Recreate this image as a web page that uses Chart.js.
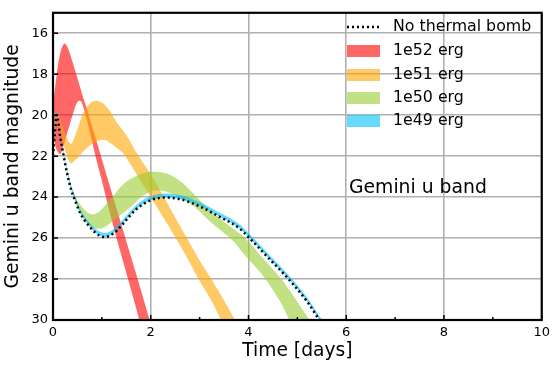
<!DOCTYPE html>
<html>
<head>
<meta charset="utf-8">
<script src="https://cdn.jsdelivr.net/npm/chart.js@4.4.0/dist/chart.umd.min.js"></script>
<style>
  html, body { margin: 0; padding: 0; background: #fff; }
  #wrap { width: 555px; height: 366px; }
</style>
</head>
<body>
<div id="wrap"><canvas id="lc"></canvas></div>
<script>
// axis ticks
const xTicks = [0, 2, 4, 6, 8, 10];
const xMinor = [1, 3, 5, 7, 9];
const yTicks = [16, 18, 20, 22, 24, 26, 28, 30];

// No thermal bomb (dotted) and 1e49 band share these times
const tBase = [0, 0.04, 0.08, 0.15, 0.2, 0.28, 0.38, 0.45, 0.55, 0.75, 0.95, 1.05, 1.15, 1.3, 1.45, 1.7, 2.0, 2.3, 2.6, 3.0, 3.4, 3.8, 4.0, 4.4, 4.8, 5.2, 5.45, 5.6];
const magBase = [22.0, 20.8, 20.0, 21.1, 21.75, 22.75, 23.7, 24.15, 24.75, 25.45, 25.88, 25.95, 25.9, 25.65, 25.25, 24.6, 24.15, 24.02, 24.1, 24.45, 24.95, 25.5, 25.95, 26.95, 27.95, 29.1, 30.0, 30.5];
const mag49Hi = [21.8, 20.6, 19.8, 20.9, 21.55, 22.55, 23.5, 23.95, 24.55, 25.25, 25.68, 25.75, 25.7, 25.45, 25.05, 24.4, 23.95, 23.82, 23.9, 24.25, 24.75, 25.3, 25.75, 26.75, 27.75, 28.9, 29.8, 30.3];
const mag49Lo = [22.0, 20.8, 20.0, 21.1, 21.75, 22.75, 23.7, 24.15, 24.75, 25.45, 25.88, 25.95, 25.9, 25.65, 25.25, 24.6, 24.15, 24.02, 24.1, 24.45, 24.95, 25.5, 25.95, 26.95, 27.95, 29.1, 30.0, 30.5];

// 1e50 erg
const t50 = [0, 0.04, 0.08, 0.15, 0.2, 0.28, 0.35, 0.45, 0.6, 0.8, 0.95, 1.1, 1.29, 1.45, 1.63, 1.83, 2.0, 2.15, 2.31, 2.5, 2.64, 2.8, 2.98, 3.22, 3.45, 3.69, 3.93, 4.3, 4.67, 4.9, 5.25, 5.4];
const mag50Hi = [21.9, 20.7, 19.95, 21.0, 21.6, 22.6, 23.3, 23.95, 24.5, 24.85, 24.7, 24.3, 23.77, 23.35, 23.05, 22.85, 22.76, 22.77, 22.84, 23.05, 23.29, 23.65, 24.09, 24.65, 25.1, 25.55, 26.0, 27.0, 28.0, 28.75, 30.0, 30.5];
const mag50Lo = [21.95, 20.75, 20.0, 21.05, 21.65, 22.65, 23.4, 24.2, 24.9, 25.45, 25.55, 25.4, 25.05, 24.75, 24.4, 23.95, 23.72, 23.68, 23.72, 23.9, 24.08, 24.3, 24.65, 25.2, 25.65, 26.15, 26.85, 27.85, 29.2, 30.3, 31.5, 32.0];

// 1e51 erg
const t51 = [0, 0.1, 0.2, 0.3, 0.37, 0.45, 0.54, 0.61, 0.74, 0.88, 1.0, 1.08, 1.18, 1.28, 1.43, 1.56, 1.7, 2.0, 2.27, 2.5, 2.74, 3.0, 3.25, 3.5, 3.7, 3.9];
const mag51Hi = [20.9, 20.0, 20.6, 21.2, 21.4, 21.0, 20.4, 19.93, 19.46, 19.3, 19.38, 19.54, 19.85, 20.26, 20.75, 21.2, 21.8, 22.9, 24.0, 25.0, 26.0, 27.1, 28.05, 29.05, 29.9, 30.8];
const mag51Lo = [21.0, 20.2, 21.3, 22.1, 22.35, 22.2, 22.0, 21.8, 21.5, 21.3, 21.2, 21.22, 21.37, 21.55, 21.85, 22.3, 22.85, 24.0, 25.05, 25.95, 26.95, 28.1, 29.1, 30.3, 31.2, 32.0];

// 1e52 erg
const t52 = [0, 0.05, 0.1, 0.15, 0.2, 0.24, 0.3, 0.4, 0.5, 0.55, 0.6, 0.7, 0.8, 0.9, 1.0, 1.2, 1.4, 1.6, 1.8, 2.0];
const mag52Hi = [19.4, 18.5, 17.6, 16.95, 16.6, 16.5, 16.7, 17.4, 18.2, 18.6, 19.0, 19.75, 20.55, 21.35, 22.15, 23.75, 25.35, 26.95, 28.55, 30.2];
const mag52Lo = [20.8, 21.5, 21.8, 21.9, 21.6, 21.3, 20.8, 20.0, 19.35, 19.3, 19.45, 20.3, 21.3, 22.3, 23.2, 25.1, 26.85, 28.55, 30.3, 32.0];

const legendLabels = ['No thermal bomb', '1e52 erg', '1e51 erg', '1e50 erg', '1e49 erg'];
const bandColors = ['rgba(255,0,0,0.6)', 'rgba(255,165,0,0.6)', 'rgba(154,205,50,0.6)', 'rgba(0,191,255,0.6)'];
const FONT = 'DejaVu Sans';

function pts(xs, ys) {
    return xs.map((x, i) => ({ x: x, y: ys[i] }));
}

function edge(xs, ys, fillColor) {
    return {
        data: pts(xs, ys),
        borderWidth: 0,
        borderColor: 'rgba(0,0,0,0)',
        pointRadius: 0,
        cubicInterpolationMode: 'monotone',
        backgroundColor: fillColor || 'rgba(0,0,0,0)',
        fill: fillColor ? '-1' : false
    };
}

const datasets = [
    {
        data: pts(tBase, magBase),
        borderColor: '#000',
        borderWidth: 2.5,
        borderDash: [2, 3],
        pointRadius: 0,
        cubicInterpolationMode: 'monotone',
        fill: false
    },
    edge(tBase, mag49Hi),
    edge(tBase, mag49Lo, bandColors[3]),
    edge(t50, mag50Hi),
    edge(t50, mag50Lo, bandColors[2]),
    edge(t51, mag51Hi),
    edge(t51, mag51Lo, bandColors[1]),
    edge(t52, mag52Hi),
    edge(t52, mag52Lo, bandColors[0])
];

// spines, inward ticks, legend and the in-plot label
const decor = {
    id: 'decor',
    afterDraw(chart) {
        const ctx = chart.ctx;
        const a = chart.chartArea;
        const xs = chart.scales.x, ys = chart.scales.y;
        ctx.save();
        ctx.strokeStyle = '#000';
        ctx.lineWidth = 1.5;
        ctx.beginPath();
        xTicks.forEach(v => {
            const px = xs.getPixelForValue(v);
            ctx.moveTo(px, a.bottom); ctx.lineTo(px, a.bottom - 5);
        });
        xMinor.forEach(v => {
            const px = xs.getPixelForValue(v);
            ctx.moveTo(px, a.bottom); ctx.lineTo(px, a.bottom - 3);
        });
        yTicks.forEach(v => {
            const py = ys.getPixelForValue(v);
            ctx.moveTo(a.left, py); ctx.lineTo(a.left + 5, py);
        });
        ctx.stroke();

        ctx.lineWidth = 2.2;
        ctx.strokeRect(a.left, a.top, a.right - a.left, a.bottom - a.top);

        // legend
        const lx = 347, lw = 33, tx = 393;
        const rows = [27, 51, 75, 98, 121];
        ctx.font = '15.8px "' + FONT + '"';
        ctx.textBaseline = 'middle';
        ctx.fillStyle = '#000';
        rows.forEach((ry, i) => {
            if (i === 0) {
                ctx.setLineDash([2, 3]);
                ctx.lineWidth = 2.5;
                ctx.beginPath();
                ctx.moveTo(lx, ry); ctx.lineTo(lx + lw, ry);
                ctx.stroke();
                ctx.setLineDash([]);
            } else {
                ctx.fillStyle = bandColors[i - 1];
                ctx.fillRect(lx, ry - 6, lw, 12);
                ctx.fillStyle = '#000';
            }
            ctx.fillText(legendLabels[i], tx, ry);
        });

        ctx.font = '18.8px "' + FONT + '"';
        ctx.fillText('Gemini u band', 349, 188);
        ctx.restore();
    }
};

new Chart(document.getElementById('lc'), {
    type: 'line',
    data: { datasets: datasets },
    plugins: [decor],
    options: {
        responsive: true,
        maintainAspectRatio: false,
        animation: false,
        layout: { padding: { left: 0, top: 7, right: 9, bottom: 0 } },
        plugins: {
            legend: { display: false },
            tooltip: { enabled: false }
        },
        scales: {
            x: {
                type: 'linear',
                min: 0,
                max: 10,
                afterBuildTicks: s => { s.ticks = xTicks.map(v => ({ value: v })); },
                afterFit: s => { s.height = 46; },
                border: { display: false },
                grid: { color: '#b0b0b0', lineWidth: 1.6, drawTicks: false },
                ticks: { color: '#000', font: { family: FONT, size: 13 }, padding: 5, maxRotation: 0, autoSkip: false },
                title: { display: true, text: 'Time [days]', color: '#000', font: { family: FONT, size: 18.7 }, padding: { top: 0, bottom: 4 } }
            },
            y: {
                type: 'linear',
                reverse: true,
                min: 15,
                max: 30,
                afterBuildTicks: s => { s.ticks = yTicks.map(v => ({ value: v })); },
                afterFit: s => { s.width = 53; },
                border: { display: false },
                grid: { color: '#b0b0b0', lineWidth: 1.6, drawTicks: false },
                ticks: { color: '#000', font: { family: FONT, size: 13 }, padding: 5, autoSkip: false },
                title: { display: true, text: 'Gemini u band magnitude', color: '#000', font: { family: FONT, size: 18.7 }, padding: { top: 2, bottom: 0 } }
            }
        }
    }
});
</script>
</body>
</html>
